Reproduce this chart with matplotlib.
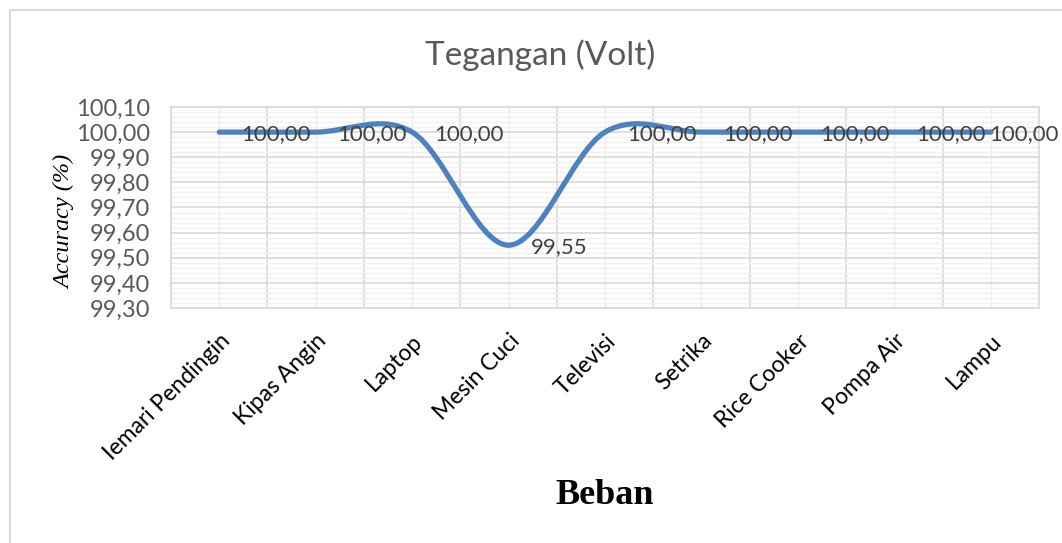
import numpy as np
import matplotlib
matplotlib.use("Agg")
import matplotlib.pyplot as plt
from matplotlib.path import Path
from matplotlib.patches import PathPatch, Rectangle
from matplotlib.ticker import MultipleLocator, FuncFormatter

# data
categories = ["Iemari Pendingin", "Kipas Angin", "Laptop", "Mesin Cuci", "Televisi",
              "Setrika", "Rice Cooker", "Pompa Air", "Lampu"]
accuracy = [100.00, 100.00, 100.00, 99.55, 100.00, 100.00, 100.00, 100.00, 100.00]
value_labels = ["100,00", "100,00", "100,00", "99,55", "100,00",
                "100,00", "100,00", "100,00", "100,00"]

plt.rcParams['font.family'] = ['Lato', 'DejaVu Sans']

fig = plt.figure(figsize=(10.62, 5.43), dpi=100)
ax = fig.add_axes([171 / 1062, 235 / 543, 868 / 1062, 201 / 543])

x = np.arange(len(categories))
y = np.array(accuracy)

# smoothed line like excel (catmull-rom -> cubic bezier)
verts = [(x[0], y[0])]
codes = [Path.MOVETO]
n = len(x)
for i in range(n - 1):
    p0 = np.array([x[max(i - 1, 0)], y[max(i - 1, 0)]])
    p1 = np.array([x[i], y[i]])
    p2 = np.array([x[i + 1], y[i + 1]])
    p3 = np.array([x[min(i + 2, n - 1)], y[min(i + 2, n - 1)]])
    c1 = p1 + (p2 - p0) / 6
    c2 = p2 - (p3 - p1) / 6
    verts += [tuple(c1), tuple(c2), tuple(p2)]
    codes += [Path.CURVE4] * 3
ax.add_patch(PathPatch(Path(verts, codes), facecolor="none", edgecolor="#4F81BD",
                       lw=3.8, capstyle="round", joinstyle="round", zorder=3))

for i, (xi, yi, lab) in enumerate(zip(x, y, value_labels)):
    # last label is pushed back so it stays inside the chart, like excel does
    dx = -2 if i == n - 1 else 22
    ax.annotate(lab, (xi, yi), xytext=(dx, -2), textcoords="offset pixels",
                ha="left", va="center", fontsize=16, color="#404040",
                annotation_clip=False, zorder=4)

ax.set_xlim(-0.5, len(categories) - 0.5)
ax.set_ylim(99.30, 100.10)
ax.yaxis.set_major_locator(MultipleLocator(0.10))
ax.yaxis.set_minor_locator(MultipleLocator(0.02))
ax.yaxis.set_major_formatter(FuncFormatter(lambda v, p: f"{v:.2f}".replace(".", ",")))
ax.set_xticks(x)
ax.set_xticks(np.arange(-0.5, len(categories), 1.0), minor=True)
ax.set_xticklabels(categories, rotation=45, ha="right", rotation_mode="anchor",
                   fontsize=16.5, color="#000000")
ax.tick_params(axis="y", labelsize=17, labelcolor="#595959", length=0, pad=15)
ax.tick_params(axis="x", length=0, pad=16)
ax.tick_params(which="minor", length=0)

ax.grid(which="major", axis="y", color="#d9d9d9", lw=1.2)
ax.grid(which="minor", axis="y", color="#f0f0f0", lw=1.0)
ax.grid(which="minor", axis="x", color="#d9d9d9", lw=1.2)
ax.grid(which="major", axis="x", color="#ececec", lw=1.0)
ax.set_axisbelow(True)
for s in ax.spines.values():
    s.set_color("#d9d9d9")
    s.set_linewidth(1.2)

fig.text(540 / 1062, 1 - 55 / 543, "Tegangan (Volt)", ha="center", va="center",
         fontsize=24, color="#595959")
fig.text(65 / 1062, 1 - 222 / 543, "Accuracy (%)", rotation=90, ha="center", va="center",
         fontsize=17.5, style="italic", family="Liberation Serif", color="#000000")
fig.text(605 / 1062, 1 - 496 / 543, "Beban", ha="center", va="center",
         fontsize=26, weight="bold", family="Liberation Serif", color="#000000")

# chart outer border
fig.patches.append(Rectangle((10 / 1062, -0.05), 1.1, 1 - 10 / 543 + 0.05,
                             transform=fig.transFigure, fill=False,
                             edgecolor="#d9d9d9", lw=1.5))

fig.savefig("out.png", dpi=100)
